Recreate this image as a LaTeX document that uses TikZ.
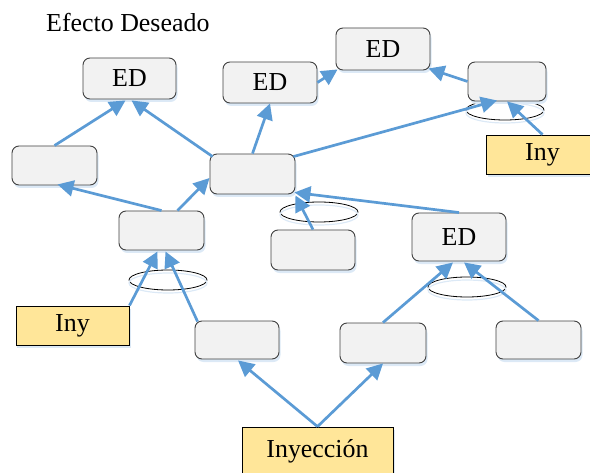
\documentclass[tikz,border=0pt]{standalone}
\usepackage{fontspec}
\setmainfont{Liberation Serif}
\usetikzlibrary{arrows.meta,calc,shadows,shapes.geometric}

\definecolor{boxfill}{HTML}{F2F2F2}
\definecolor{inyfill}{HTML}{FFE699}
\definecolor{linkblue}{HTML}{5B9BD5}
\definecolor{shadeblue}{HTML}{DCE9F6}
\definecolor{edgegray}{HTML}{404040}

\begin{document}
\begin{tikzpicture}[x=1bp,y=-1bp,
  every node/.style={font=\fontsize{26}{30}\selectfont},
  boxshadow/.style={drop shadow={shadow xshift=1.5bp,shadow yshift=-3bp,fill=shadeblue,opacity=1}},
  effect/.style={draw=edgegray,line width=0.9bp,fill=boxfill,rounded corners=7bp,
    inner sep=0pt,boxshadow},
  inject/.style={draw=black,line width=0.9bp,fill=inyfill,inner sep=0pt,boxshadow},
  junction/.style={draw=black,line width=0.8bp,ellipse,inner sep=0pt,
    minimum width=78bp,minimum height=20bp},
  link/.style={draw=linkblue,line width=2.7bp,-{Triangle[length=16bp,width=16bp]}}]

\useasboundingbox (0,0) rectangle (590,473);

% heading
\node[anchor=base west,inner sep=0pt] (title) at (46,32) {Efecto Deseado};

% AND-junction ellipses, each with a faint offset outline below
\node[junction] (joinTR) at (505,110) {};
\node[junction] (joinC)  at (319,212) {};
\node[junction] (joinM)  at (168,280) {};
\node[junction] (joinED) at (467,287) {};
\foreach \j in {joinTR,joinC,joinM,joinED}
  \draw[shadeblue,line width=1.2bp] ($(\j)+(0,3)$) ellipse [x radius=39bp,y radius=10bp];

% effect boxes
\node[effect,minimum width=93bp,minimum height=41bp] (ed1) at (129.5,78.5) {ED};
\node[effect,minimum width=94bp,minimum height=41bp] (ed2) at (270,82.5) {ED};
\node[effect,minimum width=94bp,minimum height=42bp] (ed3) at (383,49) {ED};
\node[effect,minimum width=78bp,minimum height=39bp] (tr)  at (507,81.5) {};
\node[effect,minimum width=85bp,minimum height=39bp] (L)   at (54.5,165.5) {};
\node[effect,minimum width=85bp,minimum height=40bp] (C)   at (252.5,174) {};
\node[effect,minimum width=85bp,minimum height=39bp] (M)   at (161.5,230.5) {};
\node[effect,minimum width=84bp,minimum height=40bp] (mid) at (313,250) {};
\node[effect,minimum width=94bp,minimum height=48bp] (ed4) at (459,237) {ED};
\node[effect,minimum width=84bp,minimum height=38bp] (BL)  at (237,340) {};
\node[effect,minimum width=86bp,minimum height=40bp] (BM)  at (383,343) {};
\node[effect,minimum width=85bp,minimum height=38bp] (BR)  at (538.5,340) {};

% injection boxes
\node[inject,minimum width=113bp,minimum height=39bp] (inyTR) at (542.5,154.5) {Iny};
\node[inject,minimum width=113bp,minimum height=39bp] (inyL)  at (72.5,325.5) {Iny};
\node[inject,minimum width=151bp,minimum height=49bp] (inyeccion) at (317.5,451.5) {Inyección};

% connectors
\draw[link] (L.north) -- ($(ed1.south)+(-4,1)$);
\draw[link] ($(C.north west)+(3,3)$) -- ($(ed1.south)+(2,1)$);
\draw[link] (C.north) -- (ed2.south);
\draw[link] (ed2.east) -- ($(ed3.south west)+(2,-1)$);
\draw[link] (tr.west) -- ($(ed3.south east)+(-2,-2)$);
\draw[link] ($(C.north east)+(-2,3)$) -- ($(tr.south)+(-10,-1)$);
\draw[link] (inyTR.north) -- (tr.south);
\draw[link] (M.north) -- ($(L.south)+(3,-1)$);
\draw[link] ($(M.north)+(16,0)$) -- ($(C.west)+(0,4)$);
\draw[link] (mid.north) -- ($(C.south east)+(0,1)$);
\draw[link] (ed4.north) -- ($(C.south east)+(-1,-2)$);
\draw[link] (inyL.north east) -- ($(M.south)+(-4,1)$);
\draw[link] ($(BL.north west)+(3,1)$) -- ($(M.south)+(4,1)$);
\draw[link] (inyeccion.north) -- ($(BL.south)+(1,1)$);
\draw[link] (inyeccion.north) -- (BM.south);
\draw[link] (BM.north) -- ($(ed4.south)+(-6,1)$);
\draw[link] (BR.north) -- ($(ed4.south)+(5,1)$);
\end{tikzpicture}
\end{document}
